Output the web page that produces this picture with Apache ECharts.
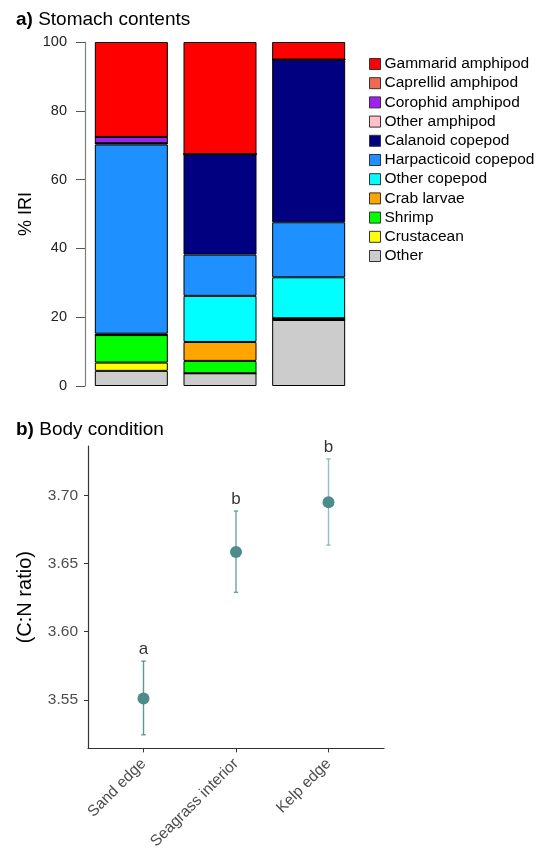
<!DOCTYPE html>
<html>
<head>
<meta charset="utf-8">
<script src="https://cdn.jsdelivr.net/npm/echarts@6/dist/echarts.min.js"></script>
<style>
html,body{margin:0;padding:0;background:#fff;}
#chart{width:545px;height:852px;}
</style>
</head>
<body>
<div id="chart"></div>
<script>
// ---- Panel a data: stomach contents (% IRI), stacked bottom to top ----
const habitats = ["Sand edge", "Seagrass interior", "Kelp edge"];
const preyNames = ["Other", "Crustacean", "Shrimp", "Crab larvae", "Other copepod",
  "Harpacticoid copepod", "Calanoid copepod", "Other amphipod", "Corophid amphipod",
  "Caprellid amphipod", "Gammarid amphipod"];
const other        = [4.4, 3.7, 19.2];
const crustacean   = [2.4, 0, 0];
const shrimp       = [8.0, 3.6, 0.5];
const crabLarvae   = [0, 5.5, 0];
const otherCopepod = [0.4, 13.4, 11.9];
const harpacticoid = [55.0, 12.0, 16.0];
const calanoid     = [0.4, 29.2, 47.3];
const otherAmphipod= [0, 0, 0];
const corophid     = [1.8, 0, 0];
const caprellid    = [0, 0, 0];
const gammarid     = [27.6, 32.6, 5.1];
const preyValues = [other, crustacean, shrimp, crabLarvae, otherCopepod, harpacticoid,
  calanoid, otherAmphipod, corophid, caprellid, gammarid];
const preyColors = ["#cccccc", "#ffff00", "#00ff00", "#ffa500", "#00ffff", "#1e90ff",
  "#000080", "#ffc0cb", "#a020f0", "#ee6a50", "#ff0000"];
const iriTicks = [0, 20, 40, 60, 80, 100];

// ---- Panel b data: body condition (C:N ratio) ----
const cnMean  = [3.551, 3.6585, 3.6951];
const cnLower = [3.5243, 3.6289, 3.6636];
const cnUpper = [3.5784, 3.6886, 3.7269];
const cnLetters = ["a", "b", "b"];
const cnTicks = [3.55, 3.60, 3.65, 3.70];
const cnPositions = [1, 2, 3];

const FONT = "'Liberation Sans', Arial, Helvetica, sans-serif";
const chart = echarts.init(document.getElementById('chart'), null, {renderer: 'canvas'});

const barSeries = preyNames.map((name, i) => ({
  name: name,
  type: 'bar',
  stack: 'iri',
  xAxisIndex: 0,
  yAxisIndex: 0,
  barWidth: 73,
  data: preyValues[i],
  itemStyle: {color: preyColors[i], borderColor: '#000', borderWidth: 1},
  emphasis: {disabled: true},
  animation: false
}));

const errColors = ['#5f9797', '#6fa3a3', '#93bfbf'];

const option = {
  animation: false,
  textStyle: {fontFamily: FONT},
  title: [
    {
      left: 11, top: 5,
      text: '{b|a)} Stomach contents',
      textStyle: {fontSize: 19, fontWeight: 'normal', color: '#000', fontFamily: FONT,
        rich: {b: {fontSize: 19, fontWeight: 'bold', color: '#000', fontFamily: FONT}}}
    },
    {
      left: 11, top: 415,
      text: '{b|b)} Body condition',
      textStyle: {fontSize: 19, fontWeight: 'normal', color: '#000', fontFamily: FONT,
        rich: {b: {fontSize: 19, fontWeight: 'bold', color: '#000', fontFamily: FONT}}}
    }
  ],
  legend: {
    orient: 'vertical',
    left: 364,
    top: 51,
    itemWidth: 11,
    itemHeight: 11,
    itemGap: 3.2,
    icon: 'rect',
    data: preyNames.slice().reverse(),
    itemStyle: {borderColor: '#333', borderWidth: 1},
    textStyle: {fontSize: 15.5, color: '#000', fontFamily: FONT, lineHeight: 12, padding: [0, 0, 0, -1]},
    selectedMode: false
  },
  grid: [
    {left: 87, top: 42, width: 266, height: 344},
    {left: 88, top: 446, width: 296, height: 305}
  ],
  xAxis: [
    {
      gridIndex: 0, type: 'category', data: habitats,
      axisLine: {show: false}, axisTick: {show: false}, axisLabel: {show: false}
    },
    {
      gridIndex: 1, type: 'value', min: 0.4, max: 3.6,
      axisLine: {show: true, onZero: false, lineStyle: {color: '#333', width: 1.2}},
      axisTick: {show: true, length: 4, customValues: cnPositions, lineStyle: {color: '#333'}},
      axisLabel: {
        show: true, customValues: cnPositions, rotate: 45, fontSize: 15.5, color: '#4d4d4d',
        margin: 13, fontFamily: FONT,
        formatter: v => habitats[Math.round(v) - 1] || ''
      },
      splitLine: {show: false}
    }
  ],
  yAxis: [
    {
      gridIndex: 0, type: 'value', min: 0, max: 100, interval: 20, offset: 2,
      name: '% IRI', nameLocation: 'middle', nameGap: 50,
      nameTextStyle: {fontSize: 18, color: '#000', fontFamily: FONT},
      axisLine: {show: true, lineStyle: {color: '#808080', width: 1.2}},
      axisTick: {show: true, length: 9, lineStyle: {color: '#555'}},
      axisLabel: {fontSize: 14.5, color: '#222', margin: 18, fontFamily: FONT,
        customValues: iriTicks},
      splitLine: {show: false}
    },
    {
      gridIndex: 1, type: 'value', min: 3.5143, max: 3.7364,
      name: '(C:N ratio)', nameLocation: 'middle', nameGap: 53,
      nameTextStyle: {fontSize: 20, color: '#000', fontFamily: FONT},
      axisLine: {show: true, onZero: false, lineStyle: {color: '#333', width: 1.2}},
      axisTick: {show: true, length: 4, customValues: cnTicks, lineStyle: {color: '#333'}},
      axisLabel: {fontSize: 15.5, color: '#4d4d4d', margin: 10, fontFamily: FONT,
        customValues: cnTicks, formatter: v => v.toFixed(2)},
      splitLine: {show: false}
    }
  ],
  series: barSeries.concat([
    {
      type: 'custom',
      xAxisIndex: 1, yAxisIndex: 1,
      data: cnPositions.map((p, i) => [p, cnLower[i], cnUpper[i]]),
      renderItem: function (params, api) {
        const x = api.value(0);
        const lo = api.coord([x, api.value(1)]);
        const hi = api.coord([x, api.value(2)]);
        const c = errColors[params.dataIndex];
        const cap = 2.2;
        const st = {stroke: c, lineWidth: 1.4};
        return {
          type: 'group',
          children: [
            {type: 'line', shape: {x1: lo[0], y1: lo[1], x2: hi[0], y2: hi[1]}, style: st},
            {type: 'line', shape: {x1: lo[0] - cap, y1: lo[1], x2: lo[0] + cap, y2: lo[1]}, style: st},
            {type: 'line', shape: {x1: hi[0] - cap, y1: hi[1], x2: hi[0] + cap, y2: hi[1]}, style: st}
          ]
        };
      },
      silent: true
    },
    {
      type: 'scatter',
      xAxisIndex: 1, yAxisIndex: 1,
      symbolSize: 12,
      itemStyle: {color: '#4e8b8b', opacity: 1},
      data: cnPositions.map((p, i) => [p, cnMean[i]]),
      silent: true
    },
    {
      type: 'scatter',
      xAxisIndex: 1, yAxisIndex: 1,
      symbolSize: 0,
      data: cnPositions.map((p, i) => ({value: [p, cnUpper[i]], label: {formatter: cnLetters[i]}})),
      label: {show: true, position: 'top', distance: 3, fontSize: 17, color: '#000', fontFamily: FONT},
      silent: true
    }
  ])
};
chart.setOption(option);
</script>
</body>
</html>
